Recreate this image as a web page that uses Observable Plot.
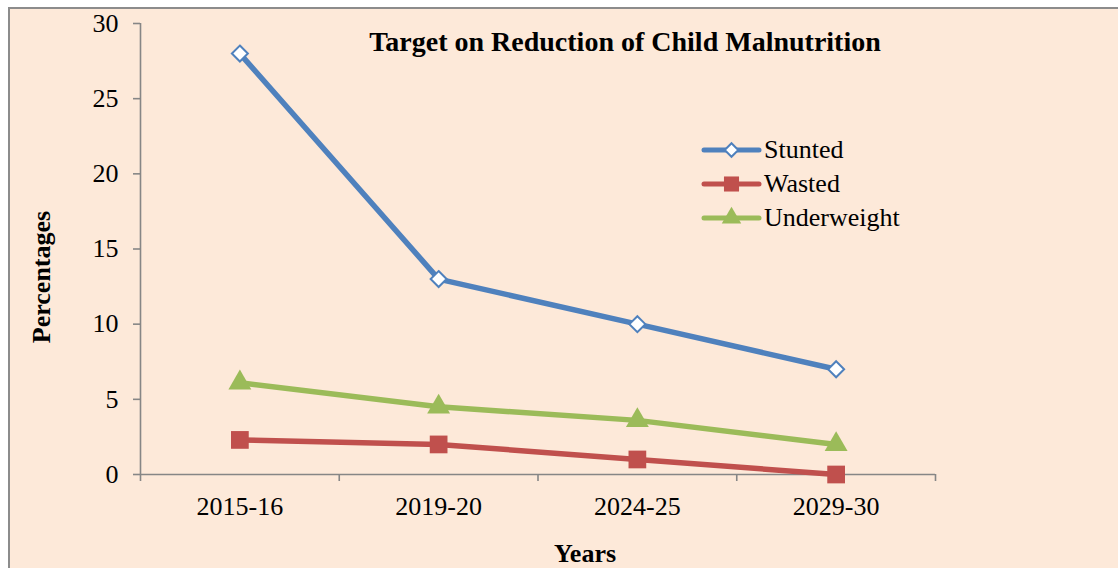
<!DOCTYPE html>
<html><head><meta charset="utf-8">
<script src="https://cdn.jsdelivr.net/npm/d3@7"></script>
<script src="https://cdn.jsdelivr.net/npm/@observablehq/plot@0.6"></script>
<style>
body{margin:0;background:#fff;}
#wrap{position:relative;width:1118px;height:568px;overflow:hidden;font-family:"Liberation Serif","Times New Roman",serif;color:#000;}
#panel{position:absolute;left:8px;top:7px;width:1110px;height:561px;box-sizing:border-box;border-left:2px solid #8c8c8c;border-top:2px solid #8c8c8c;background:#FDE9D9;}
#chart{position:absolute;left:0;top:0;}
#chart svg, #chart svg text, #chart svg g{font-family:"Liberation Serif","Times New Roman",serif !important;}
.lbl{position:absolute;text-align:center;white-space:nowrap;}
.title{left:325px;width:600px;top:26px;line-height:32px;font-size:28px;font-weight:bold;}
.ylab{left:-58px;width:200px;top:262px;line-height:30px;font-size:26px;font-weight:bold;transform:rotate(-90deg);}
.xlab{left:485px;width:200px;top:539px;line-height:30px;font-size:26px;font-weight:bold;}
.leg{position:absolute;left:700px;height:34px;display:flex;align-items:center;font-size:26px;white-space:nowrap;}
.leg svg{display:block;}
</style>
</head><body>
<div id="wrap">
  <div id="panel"><div id="chart"></div></div>
  <div class="lbl title">Target on Reduction of Child Malnutrition</div>
  <div class="lbl ylab">Percentages</div>
  <div class="lbl xlab">Years</div>
  <div id="legend"></div>
</div>
<script>
const years = ["2015-16", "2019-20", "2024-25", "2029-30"];
const stunted = [28, 13, 10, 7];
const wasted = [2.3, 2.0, 1.0, 0];
const underweight = [6.1, 4.5, 3.6, 2.0];
const seriesNames = ["Stunted", "Wasted", "Underweight"];
const seriesColors = ["#4F81BD", "#C0504D", "#9BBB59"];
const yTicks = [0, 5, 10, 15, 20, 25, 30];

const seriesValues = [stunted, wasted, underweight];
const rows = [];
seriesNames.forEach((s, k) => {
  seriesValues[k].forEach((v, i) => rows.push({series: s, year: years[i], i, value: v}));
});
const pos = d => d.i + 0.5;
const boundaries = d3.range(years.length + 1);
const centers = years.map((_, i) => i + 0.5);
const axisGray = "#868686";

const marks = [
  Plot.ruleY([0], {stroke: axisGray, strokeWidth: 1.6}),
  Plot.ruleX([0], {stroke: axisGray, strokeWidth: 1.6}),
  Plot.axisY({ticks: yTicks, tickSize: 7, tickPadding: 15, stroke: axisGray, strokeWidth: 1.6, fill: "#000", label: null, fontSize: 26}),
  Plot.axisX({ticks: boundaries, tickSize: 7, tickFormat: () => "", stroke: axisGray, strokeWidth: 1.6, label: null}),
  Plot.axisX({ticks: centers, tickSize: 0, tickPadding: 22, tickFormat: d => years[Math.round(d - 0.5)], fill: "#000", label: null, fontSize: 26})
];
const symbols = {Stunted: "diamond2", Wasted: "square", Underweight: "triangle"};
const radii = {Stunted: 7.2, Wasted: 10, Underweight: 8.5};
seriesNames.forEach((s, k) => {
  const data = rows.filter(d => d.series === s);
  marks.push(Plot.line(data, {x: pos, y: "value", stroke: seriesColors[k], strokeWidth: 5.5, strokeLinejoin: "round"}));
  if (s === "Stunted") {
    marks.push(Plot.dot(data, {x: pos, y: "value", symbol: symbols[s], r: radii[s], fill: "#fff", stroke: seriesColors[k], strokeWidth: 2}));
  } else {
    marks.push(Plot.dot(data, {x: pos, y: "value", symbol: symbols[s], r: radii[s], fill: seriesColors[k], stroke: "none"}));
  }
});

const chart = Plot.plot({
  width: 1108,
  height: 559,
  marginLeft: 130,
  marginRight: 183,
  marginTop: 14,
  marginBottom: 94,
  x: {type: "linear", domain: [0, years.length], axis: null},
  y: {domain: [0, 30], axis: null},
  style: {fontFamily: "Liberation Serif, Times New Roman, serif", fontSize: "26px", background: "transparent", color: "#000", overflow: "visible"},
  marks
});
document.getElementById("chart").appendChild(chart);

// legend
const legend = document.getElementById("legend");
const legendTops = [150, 184, 218];
const symFns = {Stunted: d3.symbolDiamond2, Wasted: d3.symbolSquare, Underweight: d3.symbolTriangle};
seriesNames.forEach((s, k) => {
  const row = document.createElement("div");
  row.className = "leg";
  row.style.top = (legendTops[k] - 17) + "px";
  const r = radii[s] * 0.85;
  const path = d3.symbol(symFns[s], r * r * Math.PI)();
  const fill = s === "Stunted" ? "#fff" : seriesColors[k];
  const stroke = s === "Stunted" ? seriesColors[k] : "none";
  row.innerHTML = `<svg width="62" height="34"><line x1="4" x2="59" y1="17" y2="17" stroke="${seriesColors[k]}" stroke-width="5" stroke-linecap="round"/><path d="${path}" transform="translate(31.5,17)" fill="${fill}" stroke="${stroke}" stroke-width="2"/></svg><span style="margin-left:2px">${s}</span>`;
  legend.appendChild(row);
});
</script>
</body></html>
